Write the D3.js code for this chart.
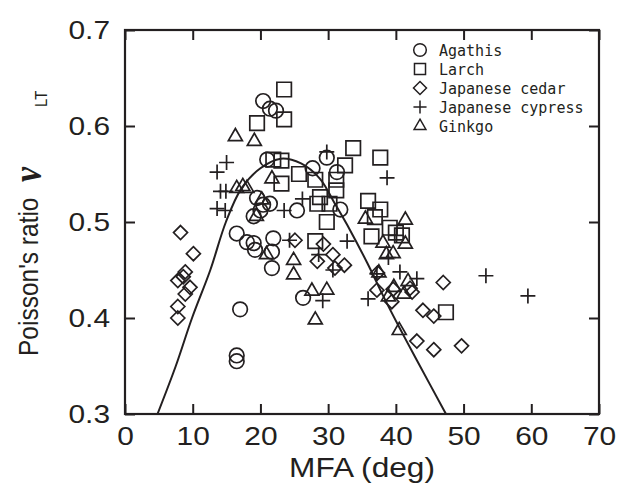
<!DOCTYPE html>
<html>
<head>
<meta charset="utf-8">
<script src="https://cdn.jsdelivr.net/npm/d3@7"></script>
<style>
  body { margin: 0; background: #fff; }
  svg { display: block; }
</style>
</head>
<body>
<svg id="chart" width="625" height="487"></svg>
<script>
// MFA (deg) vs Poisson's ratio for five species, [MFA, nu]
const agathis = [
  [20.4,0.626],[21.4,0.618],[22.3,0.616],[21.0,0.565],[27.7,0.556],[29.8,0.567],
  [31.3,0.552],[19.5,0.525],[20.4,0.518],[21.4,0.519],[20.0,0.512],[19.0,0.506],
  [25.4,0.512],[31.8,0.513],[16.5,0.488],[18.0,0.479],[19.0,0.478],[19.2,0.471],
  [21.9,0.483],[21.7,0.469],[21.7,0.452],[26.3,0.421],[17.0,0.409],[16.5,0.361],
  [16.5,0.355]
];
const larch = [
  [23.5,0.638],[19.5,0.603],[23.5,0.607],[21.9,0.565],[23.1,0.564],[23.1,0.540],
  [25.7,0.550],[28.1,0.544],[33.7,0.577],[32.5,0.559],[31.2,0.544],[31.2,0.533],
  [28.8,0.526],[28.4,0.519],[30.2,0.519],[29.8,0.500],[28.1,0.480],[37.7,0.567],
  [35.9,0.522],[37.7,0.513],[36.9,0.505],[36.4,0.485],[39.1,0.494],[40.9,0.486],
  [40.0,0.489],[47.4,0.406]
];
const cedar = [
  [8.2,0.489],[10.1,0.467],[8.9,0.448],[8.6,0.443],[7.8,0.439],[9.6,0.432],
  [8.9,0.425],[7.8,0.412],[7.8,0.400],[25.1,0.481],[29.3,0.477],[30.7,0.466],
  [28.4,0.459],[32.4,0.455],[31.0,0.452],[37.3,0.447],[37.2,0.429],[39.6,0.430],
  [39.4,0.417],[42.1,0.431],[42.4,0.427],[47.0,0.437],[44.0,0.408],[45.6,0.402],
  [43.1,0.376],[45.6,0.367],[49.7,0.371]
];
const cypress = [
  [15.0,0.562],[13.6,0.552],[14.1,0.532],[14.9,0.532],[13.6,0.514],[14.8,0.512],
  [23.5,0.512],[24.3,0.481],[26.2,0.524],[29.8,0.573],[28.6,0.466],[29.2,0.418],
  [30.7,0.450],[32.8,0.480],[35.9,0.420],[37.2,0.446],[38.9,0.463],[40.1,0.486],
  [40.6,0.448],[43.1,0.441],[38.7,0.546],[53.3,0.444],[59.5,0.423]
];
const ginkgo = [
  [16.3,0.589],[19.1,0.584],[21.7,0.545],[16.5,0.535],[17.4,0.537],[18.0,0.535],
  [20.2,0.523],[19.4,0.506],[20.9,0.466],[24.9,0.460],[24.9,0.445],[27.6,0.428],
  [29.8,0.429],[28.1,0.398],[35.5,0.503],[41.4,0.502],[38.1,0.478],[41.4,0.477],
  [38.6,0.466],[39.6,0.467],[37.5,0.447],[39.7,0.432],[38.9,0.422],[41.8,0.438],
  [41.2,0.425],[40.5,0.387]
];
// theoretical curve
const theory = [
  [4.8,0.300],[7.5,0.350],[9.9,0.400],[12.6,0.450],[14.9,0.500],[17.2,0.535],
  [20.0,0.556],[23.0,0.566],[26.0,0.561],[28.8,0.545],[31.0,0.519],[33.2,0.492],
  [35.8,0.457],[38.2,0.422],[40.6,0.389],[43.1,0.356],[47.4,0.300]
];
const seriesNames = ["Agathis", "Larch", "Japanese cedar", "Japanese cypress", "Ginkgo"];
const xTicks = [0, 10, 20, 30, 40, 50, 60, 70];
const yTicks = [0.3, 0.4, 0.5, 0.6, 0.7];

const ink = "#231f20";
const svg = d3.select("#chart");
const x = d3.scaleLinear().domain([0, 70]).range([125, 599]);
const y = d3.scaleLinear().domain([0.3, 0.7]).range([414, 30]);

const series = [
  { name: seriesNames[0], data: agathis, type: d3.symbolCircle, size: 167, lsize: 125 },
  { name: seriesNames[1], data: larch, type: d3.symbolSquare2, size: 268, lsize: 155 },
  { name: seriesNames[2], data: cedar, type: d3.symbolDiamond2, size: 125, lsize: 108 },
  { name: seriesNames[3], data: cypress, type: d3.symbolPlus, size: 75, lsize: 58 },
  { name: seriesNames[4], data: ginkgo, type: d3.symbolTriangle2, size: 140, lsize: 100 }
];

// clip region for the curve
svg.append("clipPath").attr("id", "plot-clip")
  .append("rect")
  .attr("x", x(0)).attr("y", y(0.7))
  .attr("width", x(70) - x(0)).attr("height", y(0.3) - y(0.7));

// theoretical curve
svg.append("path")
  .datum(theory)
  .attr("clip-path", "url(#plot-clip)")
  .attr("fill", "none")
  .attr("stroke", ink)
  .attr("stroke-width", 2)
  .attr("d", d3.line().x(d => x(d[0])).y(d => y(d[1])).curve(d3.curveCatmullRom));

// scatter markers
series.forEach(s => {
  svg.append("g")
    .selectAll("path")
    .data(s.data)
    .join("path")
    .attr("transform", d => `translate(${x(d[0])},${y(d[1])})`)
    .attr("d", d3.symbol().type(s.type).size(s.size))
    .attr("fill", "none")
    .attr("stroke", ink)
    .attr("stroke-width", 1.7);
});

// axes with inward ticks on all four sides
const sx = 1.15;
const tickLen = 10;
const gB = svg.append("g").attr("transform", `translate(0,${y(0.3)})`)
  .call(d3.axisBottom(x).tickValues(xTicks).tickSizeInner(-tickLen).tickSizeOuter(0).tickPadding(13));
const gT = svg.append("g").attr("transform", `translate(0,${y(0.7)})`)
  .call(d3.axisTop(x).tickValues(xTicks).tickFormat("").tickSizeInner(-tickLen).tickSizeOuter(0));
const gL = svg.append("g").attr("transform", `translate(${x(0)},0)`)
  .call(d3.axisLeft(y).tickValues(yTicks).tickFormat(d3.format(".1f")).tickSizeInner(-tickLen).tickSizeOuter(0).tickPadding(15));
const gR = svg.append("g").attr("transform", `translate(${x(70)},0)`)
  .call(d3.axisRight(y).tickValues(yTicks).tickFormat("").tickSizeInner(-tickLen).tickSizeOuter(0));

[gB, gT, gL, gR].forEach(g => {
  g.select(".domain").remove();
  g.selectAll(".tick line").attr("stroke", ink).attr("stroke-width", 2);
  g.selectAll(".tick text")
    .attr("fill", ink)
    .attr("font-family", "'Liberation Sans', Arial, sans-serif")
    .attr("font-size", 26);
});
gL.selectAll(".tick text")
  .attr("x", -15 / sx)
  .attr("transform", `scale(${sx},1)`);
gB.selectAll(".tick text")
  .attr("transform", `scale(${sx},1)`);

// plot frame
svg.append("rect")
  .attr("x", x(0)).attr("y", y(0.7))
  .attr("width", x(70) - x(0)).attr("height", y(0.3) - y(0.7))
  .attr("fill", "none")
  .attr("stroke", ink)
  .attr("stroke-width", 2.2);

// axis titles
svg.append("text")
  .attr("transform", `translate(${(x(0) + x(70)) / 2},477) scale(1.13,1)`)
  .attr("text-anchor", "middle")
  .attr("font-family", "'Liberation Sans', Arial, sans-serif")
  .attr("font-size", 28)
  .attr("fill", ink)
  .text("MFA (deg)");

const yTitle = svg.append("text")
  .attr("transform", "translate(38,356) rotate(-90) scale(1,1.15)")
  .attr("font-family", "'Liberation Sans', Arial, sans-serif")
  .attr("font-size", 24.5)
  .attr("fill", ink);
yTitle.append("tspan").attr("x", 0).text("Poisson's ratio");
yTitle.append("tspan")
  .attr("x", 174)
  .attr("dy", 3)
  .attr("font-family", "'Liberation Serif', 'Times New Roman', serif")
  .attr("font-style", "italic")
  .attr("font-weight", "bold")
  .attr("font-size", 34)
  .text("\u03bd");
yTitle.append("tspan")
  .attr("x", 249)
  .attr("dy", 5)
  .attr("font-size", 15)
  .text("LT");

// legend
const legend = svg.append("g");
series.forEach((s, i) => {
  const cy = 50 + i * 19;
  legend.append("path")
    .attr("transform", `translate(420,${cy})`)
    .attr("d", d3.symbol().type(s.type).size(s.lsize))
    .attr("fill", "none")
    .attr("stroke", ink)
    .attr("stroke-width", 1.5);
  legend.append("text")
    .attr("x", 439)
    .attr("y", cy + 5.5)
    .attr("font-family", "'DejaVu Sans Mono', monospace")
    .attr("font-size", 15)
    .attr("fill", ink)
    .text(s.name);
});
</script>
</body>
</html>
